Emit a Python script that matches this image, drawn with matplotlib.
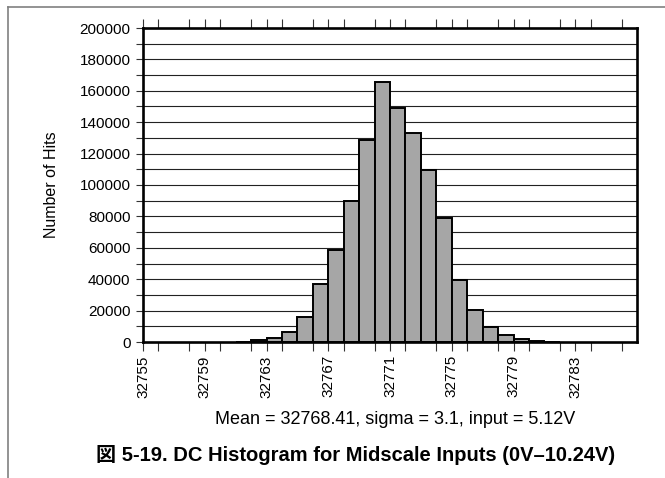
import numpy as np
import matplotlib
matplotlib.use("Agg")
import matplotlib.pyplot as plt
from matplotlib.lines import Line2D
from matplotlib.ticker import MultipleLocator

plt.rcParams['font.family'] = ['Liberation Sans', 'Noto Sans CJK JP', 'DejaVu Sans']

# output code (left edge of each bin) and hit counts
codes = [32761, 32762, 32763, 32764, 32765, 32766, 32767, 32768, 32769, 32770, 32771,
         32772, 32773, 32774, 32775, 32776, 32777, 32778, 32779, 32780, 32781]
hits = [300, 1000, 2700, 6500, 15700, 37000, 58600, 89700, 128700, 165900, 149200,
        133000, 109300, 78800, 39500, 20200, 9700, 4500, 1600, 500, 200]

x_labels = [32755, 32759, 32763, 32767, 32771, 32775, 32779, 32783]
y_labels = [0, 20000, 40000, 60000, 80000, 100000, 120000, 140000, 160000, 180000, 200000]

stats_text = "Mean = 32768.41, sigma = 3.1, input = 5.12V"
caption = "図 5-19. DC Histogram for Midscale Inputs (0V–10.24V)"

fig = plt.figure(figsize=(6.65, 4.78), dpi=100)
ax = fig.add_axes([143 / 665, 1 - 342 / 478, (637 - 143) / 665, (342 - 28) / 478])

# horizontal grid every 10000
for g in np.arange(10000, 200000, 10000):
    ax.axhline(g, color='#222222', lw=0.8, zorder=1)

ax.bar(codes, hits, width=1.0, align='edge', color='#a6a6a6',
       edgecolor='black', linewidth=1.4, zorder=2)

ax.set_xlim(32755, 32787)
ax.set_ylim(0, 200000)

ax.set_xticks(x_labels)
ax.set_xticklabels([str(v) for v in x_labels], rotation=90, fontsize=11)
ax.xaxis.set_minor_locator(MultipleLocator(2))
ax.set_yticks(y_labels)
ax.set_yticklabels([str(v) for v in y_labels], fontsize=11)
ax.yaxis.set_minor_locator(MultipleLocator(10000))

ax.tick_params(axis='x', which='both', direction='out', length=6.5, width=0.8,
               top=True, color='#333333', pad=3)
ax.tick_params(axis='y', which='both', direction='out', length=5, width=0.8,
               color='#333333', pad=4)

for s in ax.spines.values():
    s.set_linewidth(1.9)
    s.set_zorder(3)

fig.text(51 / 665, 1 - 185 / 478, "Number of Hits", rotation=90,
         ha='center', va='center', fontsize=11.5)
fig.text(395 / 665, 1 - 420 / 478, stats_text, ha='center', va='center', fontsize=13)
fig.text(356 / 665, 1 - 455 / 478, caption, ha='center', va='center',
         fontsize=14.5, fontweight='bold')

# page frame lines (top and left)
fx = 8 / 665
fy = 1 - 6.5 / 478
fig.add_artist(Line2D([fx, 1], [fy, fy], transform=fig.transFigure, color='#808080', lw=1.2))
fig.add_artist(Line2D([fx, fx], [0, fy], transform=fig.transFigure, color='#808080', lw=1.2))

fig.savefig("out.png", dpi=100)
